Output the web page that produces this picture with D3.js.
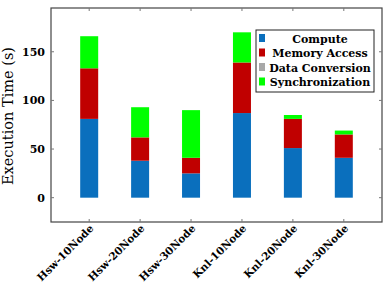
<!DOCTYPE html>
<html>
<head>
<meta charset="utf-8">
<script src="https://cdn.jsdelivr.net/npm/d3@7/dist/d3.min.js"></script>
<style>
body { margin: 0; background: #fff; }
text { font-family: "DejaVu Serif", "Liberation Serif", serif; }
</style>
</head>
<body>
<script>
var categories = ["Hsw-10Node", "Hsw-20Node", "Hsw-30Node", "Knl-10Node", "Knl-20Node", "Knl-30Node"];
var compute = [81, 38, 25, 87, 51, 41];
var memoryAccess = [52, 24, 16, 52, 30, 24];
var dataConversion = [0, 0, 0, 0, 0, 0];
var synchronization = [33, 31, 49, 31, 4, 4];
var seriesNames = ["Compute", "Memory Access", "Data Conversion", "Synchronization"];
var yTicks = [0, 50, 100, 150];

var colors = ["#0a6fbd", "#c00000", "#a8a8a8", "#00ff00"];

var margin = {top: 8, right: 6, bottom: 60, left: 51},
	width = 388 - margin.left - margin.right,
	height = 282 - margin.top - margin.bottom;

var rows = categories.map(function (c, i) {
	return {cat: c, Compute: compute[i], "Memory Access": memoryAccess[i],
		"Data Conversion": dataConversion[i], Synchronization: synchronization[i]};
});

var stack = d3.stack().keys(seriesNames);
var layers = stack(rows);

var x = d3.scalePoint().domain(categories).range([0, width]).padding(0.75);
var y = d3.scaleLinear().domain([-25, 195]).range([height, 0]);
var barW = 18;

var svg = d3.select("body").append("svg")
	.attr("width", 388)
	.attr("height", 282)
	.append("g")
	.attr("transform", "translate(" + margin.left + "," + margin.top + ")");

// bars
svg.selectAll("g.layer")
	.data(layers)
	.enter().append("g")
	.attr("class", "layer")
	.attr("fill", function (d, i) { return colors[i]; })
	.selectAll("rect")
	.data(function (d) { return d; })
	.enter().append("rect")
	.attr("x", function (d) { return x(d.data.cat) - barW / 2; })
	.attr("y", function (d) { return y(d[1]); })
	.attr("width", barW)
	.attr("height", function (d) { return y(d[0]) - y(d[1]); });

// frame
svg.append("rect")
	.attr("width", width)
	.attr("height", height)
	.attr("fill", "none")
	.attr("stroke", "#444")
	.attr("stroke-width", 1.2);

// ticks inside
var tk = "#777";
yTicks.forEach(function (t) {
	svg.append("line").attr("x1", 0).attr("x2", 3).attr("y1", y(t)).attr("y2", y(t)).attr("stroke", tk);
	svg.append("line").attr("x1", width).attr("x2", width - 3).attr("y1", y(t)).attr("y2", y(t)).attr("stroke", tk);
	svg.append("text")
		.attr("x", -6)
		.attr("y", y(t))
		.attr("dy", "0.35em")
		.attr("text-anchor", "end")
		.attr("font-size", 11)
		.attr("font-weight", "bold")
		.text(t);
});
categories.forEach(function (c) {
	svg.append("line").attr("x1", x(c)).attr("x2", x(c)).attr("y1", 0).attr("y2", 3).attr("stroke", tk);
	svg.append("line").attr("x1", x(c)).attr("x2", x(c)).attr("y1", height).attr("y2", height - 3).attr("stroke", tk);
	svg.append("text")
		.attr("transform", "translate(" + (x(c) + 1) + "," + (height + 3) + ") rotate(-45)")
		.attr("text-anchor", "end")
		.attr("dy", "0.55em")
		.attr("font-size", 10.5)
		.attr("font-weight", "bold")
		.text(c);
});

// y label
svg.append("text")
	.attr("transform", "translate(-38," + (height / 2 + 1) + ") rotate(-90)")
	.attr("text-anchor", "middle")
	.attr("font-size", 14.5)
	.text("Execution Time (s)");

// legend
var lg = svg.append("g").attr("transform", "translate(" + (256 - margin.left) + "," + (30 - margin.top) + ")");
lg.append("rect")
	.attr("width", 118)
	.attr("height", 62)
	.attr("fill", "#fff")
	.attr("stroke", "#222")
	.attr("stroke-width", 1);
seriesNames.forEach(function (s, i) {
	var yy = 9 + i * 14.5;
	lg.append("rect")
		.attr("x", 3)
		.attr("y", yy - 5)
		.attr("width", 6)
		.attr("height", 8)
		.attr("fill", colors[i]);
	lg.append("text")
		.attr("x", 64)
		.attr("y", yy)
		.attr("dy", "0.35em")
		.attr("text-anchor", "middle")
		.attr("font-size", 11)
		.attr("font-weight", "bold")
		.text(s);
});
</script>
</body>
</html>
